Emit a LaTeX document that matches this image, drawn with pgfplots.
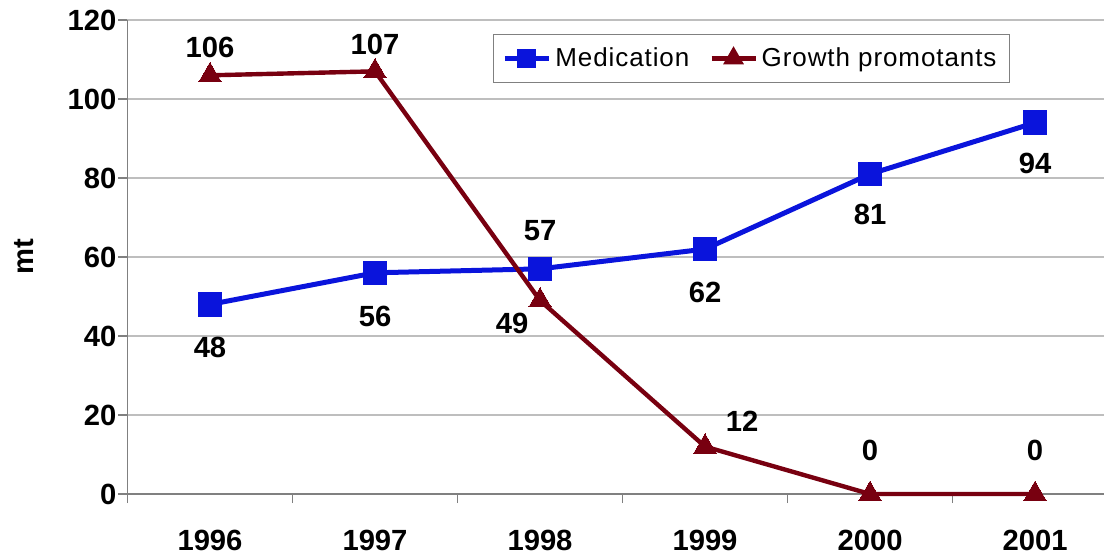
\documentclass[border=0pt]{standalone}
\usepackage{fontspec}
\setmainfont{Liberation Sans}
\newfontfamily\legfont[LetterSpace=3.5]{Liberation Sans}
\usepackage{pgfplots}
\pgfplotsset{compat=1.18}
\definecolor{medblue}{RGB}{10,20,220}
\definecolor{growred}{RGB}{120,0,16}
\definecolor{gridgray}{RGB}{190,190,190}
\definecolor{axgray}{RGB}{128,128,128}
\newcommand{\lab}{\fontsize{14.6}{16}\selectfont\bfseries}
\begin{document}
\begin{tikzpicture}
\begin{axis}[
  at={(0,0)}, anchor=south west,
  scale only axis, width=488.25pt, height=237pt,
  xmin=-0.5, xmax=5.418, ymin=0, ymax=120,
  axis lines=left,
  axis line style={-, draw=axgray, line width=0.7pt},
  clip=false,
  xtick={0,1,2,3,4,5},
  xticklabels={1996,1997,1998,1999,2000,2001},
  minor xtick={-0.5,0.5,1.5,2.5,3.5,4.5},
  major x tick style={draw=none},
  minor x tick style={draw=axgray, line width=0.6pt},
  tick align=outside,
  minor tick length=4.5pt,
  major tick length=4.5pt,
  ytick={0,20,...,120},
  y tick style={draw=axgray, line width=0.6pt},
  ymajorgrids,
  grid style={gridgray, line width=0.6pt},
  tick label style={font=\lab},
  /pgf/number format/assume math mode=true,
  xticklabel style={yshift=-10pt},
  yticklabel style={xshift=2.5pt},
  ylabel={mt},
  ylabel style={font=\lab, at={(axis description cs:-0.106,0.5)}, anchor=center},
  legend style={at={(0.3743,0.9705)}, anchor=north west, draw=axgray,
    font=\fontsize{13}{15}\selectfont\legfont, legend columns=2,
    inner ysep=4.5pt, inner xsep=4.5pt,
    /tikz/every even column/.append style={column sep=8pt}},
  legend image code/.code={%
    \draw[mark repeat=2,mark phase=2,#1,mark options={scale=0.6}]
      plot coordinates {(0pt,0pt) (11pt,0pt) (22pt,0pt)};},
]
\addplot[medblue, line width=2.5pt, mark=square*, mark size=5.9pt,
  mark options={solid, line width=0pt}]
  coordinates {(0,48) (1,56) (2,57) (3,62) (4,81) (5,94)};
\addlegendentry{Medication}
\addplot[growred, line width=2.2pt, mark=triangle*, mark size=6.4pt,
  mark options={solid, line width=0pt}]
  coordinates {(0,106) (1,107) (2,49) (3,12) (4,0) (5,0)};
\addlegendentry{Growth promotants}

\node[font=\lab] at (axis cs:0,48) [yshift=-21.5pt] {48};
\node[font=\lab] at (axis cs:1,56) [yshift=-22pt] {56};
\node[font=\lab] at (axis cs:2,57) [yshift=19pt] {57};
\node[font=\lab] at (axis cs:3,62) [yshift=-21.5pt] {62};
\node[font=\lab] at (axis cs:4,81) [yshift=-20pt] {81};
\node[font=\lab] at (axis cs:5,94) [yshift=-20.5pt] {94};
\node[font=\lab] at (axis cs:0,106) [yshift=14pt] {106};
\node[font=\lab] at (axis cs:1,107) [yshift=13.5pt] {107};
\node[font=\lab] at (axis cs:2,49) [xshift=-14pt, yshift=-11.5pt] {49};
\node[font=\lab] at (axis cs:3,12) [xshift=18.5pt, yshift=12.5pt] {12};
\node[font=\lab] at (axis cs:4,0) [yshift=22pt] {0};
\node[font=\lab] at (axis cs:5,0) [yshift=22pt] {0};
\end{axis}
\pgfresetboundingbox
\path[use as bounding box] (-63.75pt,-30pt) rectangle (488.25pt,247pt);
\end{tikzpicture}
\end{document}
